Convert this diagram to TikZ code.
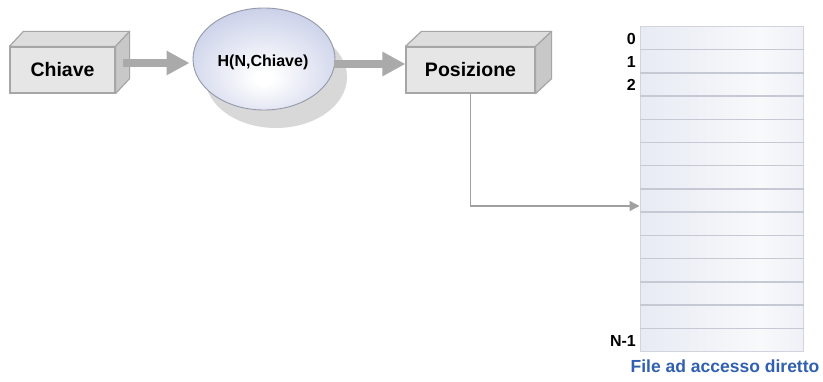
\documentclass[tikz,border=0pt]{standalone}
\usepackage{fontspec}
\setmainfont{Liberation Sans}
\usetikzlibrary{arrows.meta,calc,shapes.geometric,shadows}
\definecolor{lav}{HTML}{C4CBE6}
\definecolor{boxfront}{HTML}{E6E6E6}
\definecolor{boxtop}{HTML}{DDDDDD}
\definecolor{boxside}{HTML}{C8C8C8}
\definecolor{boxline}{HTML}{A6A6A6}
\definecolor{arrgray}{HTML}{AAAAAA}
\definecolor{conngray}{HTML}{A0A0A0}
\definecolor{ellline}{HTML}{9498A8}
\definecolor{shadowgray}{HTML}{D8D8D8}
\definecolor{tbledge}{HTML}{DCE1EE}
\definecolor{tblmid}{HTML}{F8F9FB}
\definecolor{tblline}{HTML}{C5C9D3}
\definecolor{capblue}{HTML}{3160B0}
\pgfdeclareradialshading{ellshade}{\pgfpoint{0bp}{-10bp}}{color(0bp)=(white);color(3bp)=(white);color(34bp)=(lav);color(70bp)=(lav)}
\pgfdeclarehorizontalshading{tblshade}{100bp}{color(0bp)=(tbledge);color(62bp)=(tblmid);color(100bp)=(tbledge)}
\tikzset{
  front/.style={draw=boxline, fill=boxfront, line width=1.2pt, minimum height=46pt, inner sep=0pt,
    font=\fontsize{19.5}{22}\selectfont\bfseries},
  topface/.style={draw=boxline, fill=boxtop, line width=1.2pt, line join=round},
  sideface/.style={draw=boxline, fill=boxside, line width=1.2pt, line join=round},
  hashnode/.style={ellipse, draw=ellline, line width=0.9pt, shading=ellshade, minimum width=142pt, minimum height=102pt, inner sep=0pt,
    drop shadow={shadow xshift=12pt, shadow yshift=-18pt, fill=shadowgray, opacity=1}},
  hashtext/.style={inner sep=0pt, font=\fontsize{16}{18}\selectfont\bfseries},
  bigarrow/.style={draw=arrgray, line width=8.5pt, -{Triangle[length=23pt,width=23pt]}},
  conn/.style={draw=conngray, line width=1.4pt, -{Triangle[length=10pt,width=10pt]}},
  tblnode/.style={draw=tblline!80!white, line width=1pt, shading=tblshade, minimum width=163pt, minimum height=325pt, inner sep=0pt},
  rowline/.style={draw=tblline, line width=1.4pt},
  idx/.style={anchor=east, inner sep=0pt, font=\fontsize{16}{18}\selectfont\bfseries},
  captext/.style={text=capblue, inner sep=0pt, font=\fontsize{17.5}{20}\selectfont\bfseries}
}
\begin{document}
\begin{tikzpicture}[x=1pt,y=-1pt]
\useasboundingbox[fill=white] (0,0) rectangle (823,382);
% Chiave box
\node[front, minimum width=105pt] (chiave) at (62.5,70) {Chiave};
\draw[topface] (chiave.north west) -- ++(14,-15) -- ([shift={(14pt,15pt)}]chiave.north east) -- (chiave.north east) -- cycle;
\draw[sideface] (chiave.north east) -- ++(14,-15) -- ([shift={(14pt,15pt)}]chiave.south east) -- (chiave.south east) -- cycle;
% Posizione box
\node[front, minimum width=129pt] (pos) at (470.5,70) {Posizione};
\draw[topface] (pos.north west) -- ++(16,-15) -- ([shift={(16pt,15pt)}]pos.north east) -- (pos.north east) -- cycle;
\draw[sideface] (pos.north east) -- ++(16,-15) -- ([shift={(16pt,15pt)}]pos.south east) -- (pos.south east) -- cycle;
% hash ellipse
\node[hashnode, label={[hashtext, xshift=-1pt, yshift=-3pt]center:H(N,Chiave)}] (hash) at (264,59) {};
% big arrows
\draw[bigarrow] ($(chiave.east)+(7,-7)$) -- ($(hash.west)+(-3,4)$);
\draw[bigarrow] ($(hash.east)+(-1,5)$) -- ($(pos.west)+(0,-6)$);
% table
\node[tblnode] (tbl) at (721.5,189.5) {};
\foreach \i in {1,...,13}{
  \draw[rowline] ([yshift=-23.21*\i pt]tbl.north west) -- ([yshift=-23.21*\i pt]tbl.north east);
}
\node[idx] (l0) at (636,39) {0};
\node[idx] (l1) at (636,62) {1};
\node[idx] (l2) at (636,85) {2};
\node[idx] (ln) at (636,341) {N-1};
\node[captext] (cap) at (725,366) {File ad accesso diretto};
% connector
\coordinate (slot) at (tbl.west |- 0,206);
\draw[conn] (pos.south) |- (slot);
\end{tikzpicture}
\end{document}
